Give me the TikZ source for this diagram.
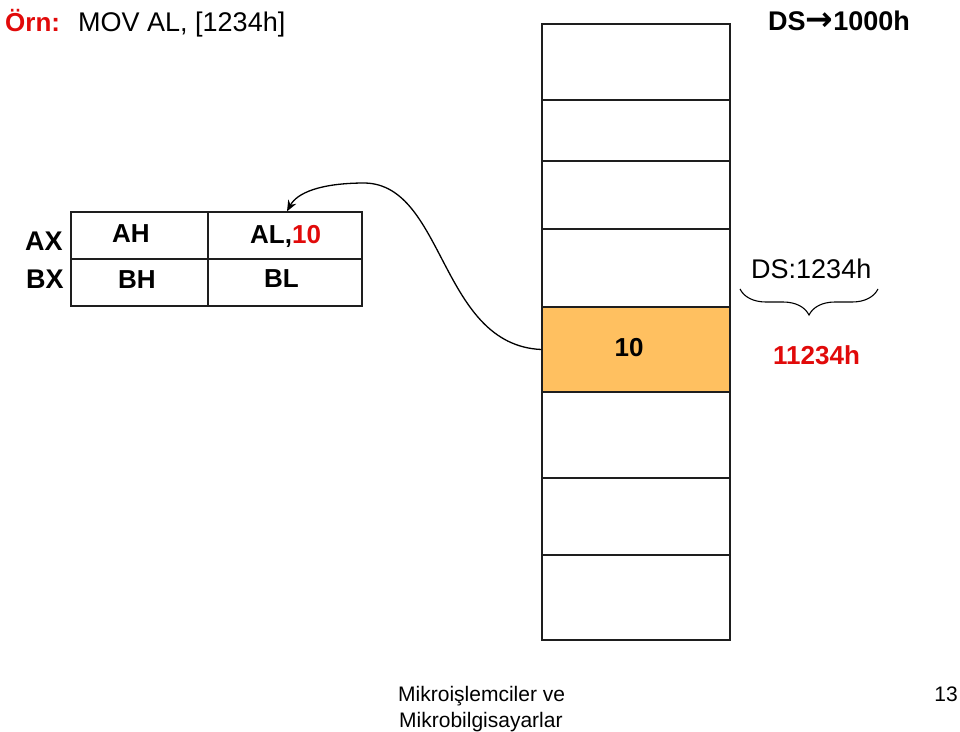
\documentclass[tikz,border=0pt]{standalone}
\usepackage{fontspec}
\setmainfont{Liberation Sans}
\newfontfamily\symbfont{DejaVu Sans}
\definecolor{slidered}{RGB}{225, 10, 10}
\definecolor{cellorange}{RGB}{255, 192, 96}
\definecolor{gridline}{RGB}{30, 30, 30}
\usetikzlibrary{arrows.meta, calc, decorations.pathreplacing}

\begin{document}
\begin{tikzpicture}[
  x=1pt, y=-1pt,
  txt/.style={inner sep=0pt, anchor=base west},
  bigtxt/.style={txt, font=\fontsize{27}{32}\selectfont},
  regtxt/.style={txt, font=\fontsize{26}{31}\selectfont\bfseries},
  foot/.style={txt, font=\fontsize{21}{25}\selectfont},
  regcell/.style={draw=gridline, line width=1.3pt, minimum width=154pt, minimum height=47pt, inner sep=0pt},
  memcell/.style={draw=gridline, line width=1.3pt, minimum width=188pt, inner sep=0pt},
  moveline/.style={line width=1.3pt, -{Stealth[length=11pt, width=9pt]}}
]
  \useasboundingbox (0,0) rectangle (960,731);

  % heading
  \node[bigtxt, font=\fontsize{26}{31}\selectfont\bfseries, text=slidered] (ornek) at (5,31) {Örn:};
  \node[bigtxt] (instr) at (78,31) {MOV AL, [1234h]};
  \node[bigtxt, font=\fontsize{27}{32}\selectfont\bfseries] (dsval) at (768,30) {DS{\symbfont\fontsize{33}{33}\selectfont →}1000h};

  % register block
  \node[regcell, minimum width=137pt] (ah) at (139.5,235.5) {};
  \node[regcell] (al) at (285,235.5) {};
  \node[regcell, minimum width=137pt] (bh) at (139.5,282.5) {};
  \node[regcell] (bl) at (285,282.5) {};

  \node[regtxt, font=\fontsize{27}{32}\selectfont\bfseries] (ax) at (25,250) {AX};
  \node[regtxt, font=\fontsize{27}{32}\selectfont\bfseries] (bx) at (26,288) {BX};
  \node[regtxt] (ahtxt) at (112,242) {AH};
  \node[regtxt] (bhtxt) at (118,288) {BH};
  \node[regtxt] (altxt) at (250,243) {AL,\textcolor{slidered}{10}};
  \node[regtxt] (bltxt) at (264,287) {BL};

  % memory column
  \foreach \i/\t/\b in {1/24/100, 2/100/161, 3/161/229, 4/229/307, 6/392/478, 7/478/555, 8/555/640}
    \node[memcell, minimum height={(\b-\t)*1pt}] (m\i) at (636,{(\t+\b)/2}) {};
  \node[memcell, fill=cellorange, minimum height=85pt] (m5) at (636,349.5) {};
  \node[regtxt, anchor=base] (val) at (629,356) {10};

  % address
  \node[bigtxt] (addr) at (751,278) {DS:1234h};
  \coordinate (brR) at (878,289);
  \coordinate (brL) at (740,289);
  \draw[line width=1.1pt, decorate, decoration={brace, amplitude=26pt}] (brR) -- (brL);
  \node[regtxt] (phys) at (773,364) {\textcolor{slidered}{11234h}};

  % transfer
  \coordinate (bend) at (365,183);
  \draw[moveline] (m5.west) .. controls (440,345) and (445,185) .. (bend)
    .. controls (320,183) and (297,193) .. (al.north -| 287,0);

  % footer
  \node[foot] (foot1) at (398,701) {Mikroişlemciler ve};
  \node[foot] (foot2) at (399,727) {Mikrobilgisayarlar};
  \node[foot, anchor=base east] (page) at (958,701) {13};
\end{tikzpicture}
\end{document}
